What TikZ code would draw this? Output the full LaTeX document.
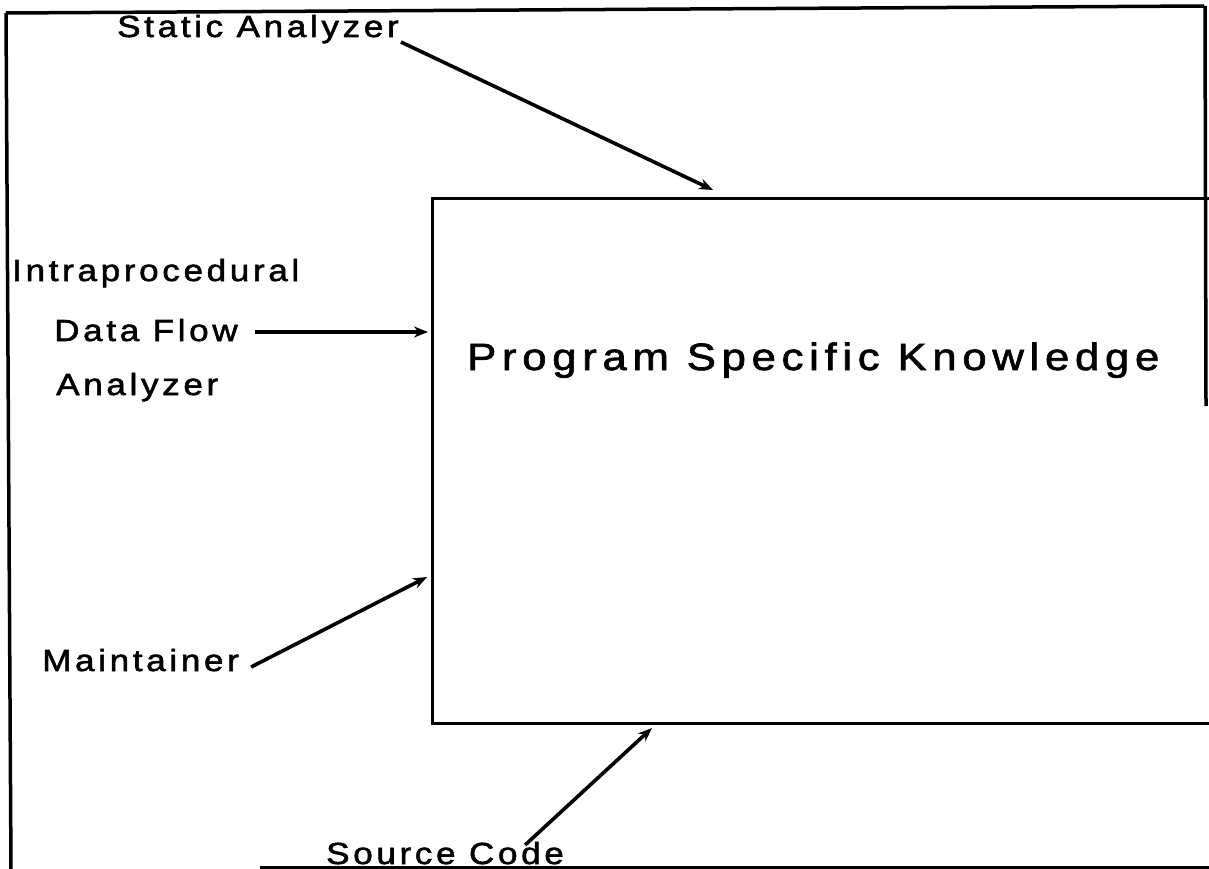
\documentclass[tikz,border=0pt]{standalone}
\usepackage{fontspec}
\setmainfont{Liberation Sans}
\newfontfamily\labelfont[LetterSpace=12,FakeStretch=1.15,FakeBold=1.8]{Liberation Sans}
\newfontfamily\titlefont[LetterSpace=15,FakeStretch=1.15,FakeBold=1.8]{Liberation Sans}
\usetikzlibrary{arrows.meta}

\begin{document}
\begin{tikzpicture}[x=1pt,y=-1pt,
  lbl/.style={anchor=base west, inner sep=0pt,
              font=\labelfont\fontsize{30.5}{36}\selectfont},
  ttl/.style={anchor=base west, inner sep=0pt,
              font=\titlefont\fontsize{38}{44}\selectfont},
  frameline/.style={line width=3.5pt},
  kbox/.style={draw, line width=2.5pt, anchor=north west, inner sep=0pt,
               minimum width=840pt, minimum height=525pt},
  feed/.style={line width=3.6pt, -{Stealth[length=14pt,width=11pt]}}]
\useasboundingbox (0,0) rectangle (1209,869);
\clip (0,0) rectangle (1209,869);

% outer frame (open at the lower left and lower right)
\draw[frameline] (6,13) -- (1204,6);
\draw[frameline] (6,13) -- (11,870);
\draw[frameline] (1205,6) -- (1206,406);
\draw[frameline] (260,867.5) -- (1210,867.5);

% knowledge box
\node[kbox] (psk) at (431,197) {};
\node[ttl] (pskt) at (467,370) {Program Specific Knowledge};

% source labels
\node[lbl] (sa) at (117,37) {Static Analyzer};
\node[lbl] (ip1) at (12,281) {Intraprocedural};
\node[lbl] (ip2) at (54,341) {Data Flow};
\node[lbl] (ip3) at (56,395) {Analyzer};
\node[lbl] (mt) at (42,671) {Maintainer};
\node[lbl] (sc) at (326,864) {Source Code};

% arrow tips near the box
\coordinate (tSA) at (713,190);
\coordinate (tDF) at (428,332);
\coordinate (tMT) at (427,577);
\coordinate (tSC) at (652,728);

\draw[feed] ([shift={(2,5)}]sa.base east) -- (tSA);
\draw[feed] ([shift={(17,-9)}]ip2.base east) -- (tDF);
\draw[feed] ([shift={(12,-4)}]mt.base east) -- (tMT);
\draw[feed] ([shift={(-39,-19)}]sc.base east) -- (tSC);
\end{tikzpicture}
\end{document}
